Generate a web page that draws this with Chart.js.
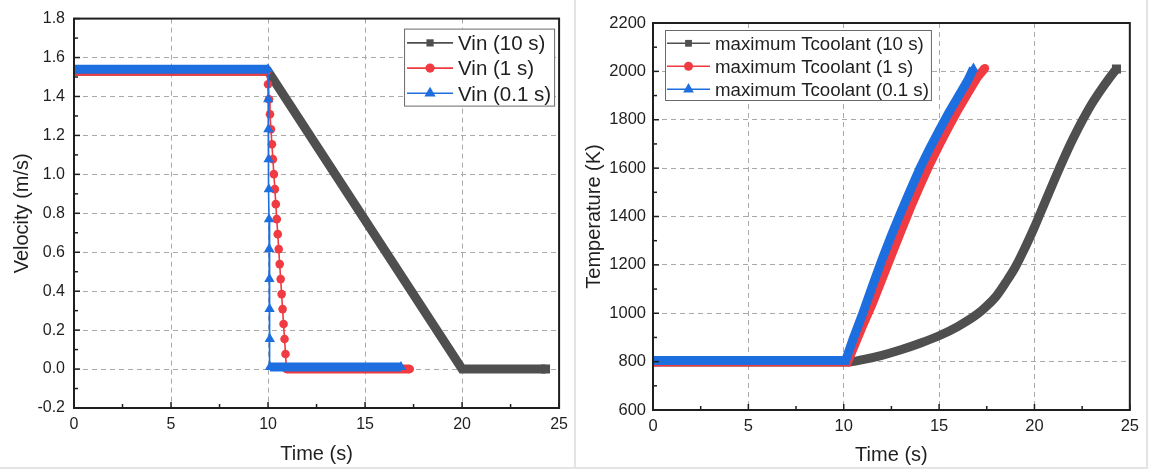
<!DOCTYPE html>
<html>
<head>
<meta charset="utf-8">
<script src="https://cdn.jsdelivr.net/npm/chart.js@4.4.1/dist/chart.umd.min.js"></script>
<style>
  html, body { margin: 0; padding: 0; background: #fff; }
  #wrap { position: relative; width: 1151px; height: 471px; overflow: hidden; }
  canvas { position: absolute; top: 0; }
  #velChart { left: 0; }
  #tempChart { left: 577px; }
  .rule { position: absolute; background: #e4e4e4; }
</style>
</head>
<body>
<div id="wrap">
  <canvas id="velChart" width="575" height="471"></canvas>
  <canvas id="tempChart" width="569" height="471"></canvas>
  <div class="rule" style="left:574px;top:0;width:2px;height:469px"></div>
  <div class="rule" style="left:1146px;top:0;width:2px;height:469px"></div>
  <div class="rule" style="left:0;top:467px;width:1148px;height:2px"></div>
</div>
<script>
const FONT = "'Liberation Sans', Arial, sans-serif";
const INK = '#1f1f1f';
const GREY = '#4f4f4f', RED = '#ef3b41', BLUE = '#1d6fe0';

// axis ticks
const timeTicks = [0, 5, 10, 15, 20, 25];
const velTicks = [-0.2, 0, 0.2, 0.4, 0.6, 0.8, 1.0, 1.2, 1.4, 1.6, 1.8];
const tempTicks = [600, 800, 1000, 1200, 1400, 1600, 1800, 2000, 2200];

// inlet velocity, three ramp-down times
const velTime10 = [0, 10, 20, 24.3];
const vel10 = [1.53, 1.53, 0, 0];

const velTime1 = [0, 9.95, 10, 10.05, 10.1, 10.15, 10.2, 10.25, 10.3, 10.35, 10.4, 10.45, 10.5,
                  10.55, 10.6, 10.65, 10.7, 10.75, 10.8, 10.85, 10.9, 10.95, 17.3];
const vel1 = [1.53, 1.53, 1.463, 1.386, 1.309, 1.232, 1.155, 1.078, 1.001, 0.924, 0.847, 0.77, 0.693,
              0.616, 0.539, 0.462, 0.385, 0.308, 0.231, 0.154, 0.077, 0, 0];

const velTime01 = [0, 10, 10.01, 10.02, 10.03, 10.04, 10.05, 10.06, 10.07, 10.08, 10.09, 10.1, 16.85];
const vel01 = [1.54, 1.54, 1.386, 1.232, 1.078, 0.924, 0.77, 0.616, 0.462, 0.308, 0.154, 0.01, 0.01];

// maximum coolant temperature
const tcTime10 = [0, 10.2, 11, 12, 13, 14, 15, 16, 17, 17.5, 18, 18.5, 19, 19.5, 20, 20.5, 21, 21.5,
                  22, 22.5, 23, 23.5, 24, 24.3];
const tc10 = [798, 798, 808, 826, 849, 876, 907, 946, 996, 1030, 1071, 1128, 1191, 1270, 1356, 1450,
              1543, 1633, 1718, 1795, 1865, 1925, 1980, 2010];

const tcTime1 = [0, 10.2, 10.5, 11, 11.5, 12, 12.5, 13, 13.5, 14, 14.5, 15, 15.5, 16, 16.5, 17, 17.4];
const tc1 = [798, 798, 855, 950, 1040, 1140, 1240, 1340, 1437, 1528, 1615, 1695, 1770, 1843, 1910, 1975, 2013];

const tcTime01 = [0, 10.1, 10.5, 11, 11.5, 12, 12.5, 13, 13.5, 14, 14.5, 15, 15.5, 16, 16.5, 16.8];
const tc01 = [805, 805, 895, 1000, 1112, 1220, 1322, 1418, 1510, 1600, 1680, 1755, 1828, 1895, 1962, 2012];

const MARK = { rect: 6.4, circle: 4.3, triangle: 6 };
const BAND = 9;

// thick band where the marker run is dense; thin line with visible markers on the drops
function series(label, xs, ys, color, marker, order, thinDrop, smooth) {
  return {
    label, order,
    data: xs.map((x, i) => ({ x, y: ys[i] })),
    borderColor: color,
    backgroundColor: color,
    pointBackgroundColor: color,
    pointBorderWidth: 0,
    pointStyle: marker,
    borderWidth: BAND,
    borderJoinStyle: 'miter',
    cubicInterpolationMode: smooth ? 'monotone' : 'default',
    tension: 0,
    clip: 0,
    pointRadius: ctx => {
      const d = ctx.dataset.data, i = ctx.dataIndex;
      if (i === d.length - 1) return MARK[marker];
      if (!thinDrop || i === 0) return 0;
      const flatL = d[i - 1].y === d[i].y;
      const flatR = d[i + 1].y === d[i].y;
      return flatL && flatR ? 0 : MARK[marker];
    },
    segment: {
      borderWidth: ctx => (thinDrop && ctx.p0.parsed.y !== ctx.p1.parsed.y) ? 1.6 : BAND
    }
  };
}

function drawMarker(ctx, style, x, y, r) {
  ctx.beginPath();
  if (style === 'circle') {
    ctx.arc(x, y, r, 0, Math.PI * 2);
  } else if (style === 'triangle') {
    ctx.moveTo(x, y - r);
    ctx.lineTo(x + r * 0.866, y + r / 2);
    ctx.lineTo(x - r * 0.866, y + r / 2);
    ctx.closePath();
  } else {
    ctx.rect(x - r, y - r, 2 * r, 2 * r);
  }
  ctx.fill();
}

// closed frame with inward major/minor ticks on bottom and left
const framePlugin = {
  id: 'frame',
  afterDatasetsDraw(chart) {
    const { ctx, chartArea: a, scales: { x, y } } = chart;
    ctx.save();
    ctx.strokeStyle = INK;
    ctx.lineWidth = 1.5;
    const run = (scale, horiz) => {
      const vals = scale.ticks.map(t => t.value);
      const tick = (v, len) => {
        const p = scale.getPixelForValue(v);
        ctx.beginPath();
        if (horiz) { ctx.moveTo(p, a.bottom); ctx.lineTo(p, a.bottom - len); }
        else { ctx.moveTo(a.left, p); ctx.lineTo(a.left + len, p); }
        ctx.stroke();
      };
      vals.forEach((v, i) => {
        tick(v, 6);
        if (i < vals.length - 1) tick((v + vals[i + 1]) / 2, 4);
      });
    };
    run(x, true);
    run(y, false);
    ctx.lineWidth = 2;
    ctx.strokeRect(a.left, a.top, a.right - a.left, a.bottom - a.top);
    ctx.restore();
  }
};

// legend box drawn inside the plot
const boxLegend = {
  id: 'boxLegend',
  afterDraw(chart, args, o) {
    const { ctx, chartArea: a } = chart;
    const sets = chart.data.datasets;
    ctx.save();
    ctx.font = o.size + 'px ' + FONT;
    const textW = Math.max(...sets.map(d => ctx.measureText(d.label).width));
    const w = o.textX + textW + o.padR;
    const h = o.rowH * sets.length + o.padV;
    const left = o.anchor === 'right' ? a.right - o.dx - w : a.left + o.dx;
    const top = a.top + o.dy;
    ctx.fillStyle = '#fff';
    ctx.fillRect(left, top, w, h);
    ctx.strokeStyle = '#6a6a6a';
    ctx.lineWidth = 1;
    ctx.strokeRect(left + 0.5, top + 0.5, w - 1, h - 1);
    sets.forEach((d, i) => {
      const cy = top + o.firstRow + i * o.rowH;
      ctx.strokeStyle = d.borderColor;
      ctx.lineWidth = 1.6;
      ctx.beginPath();
      ctx.moveTo(left + o.lineX0, cy);
      ctx.lineTo(left + o.lineX1, cy);
      ctx.stroke();
      ctx.fillStyle = d.borderColor;
      drawMarker(ctx, d.pointStyle, left + (o.lineX0 + o.lineX1) / 2, cy, o.mark[d.pointStyle]);
      ctx.fillStyle = INK;
      ctx.textBaseline = 'alphabetic';
      ctx.fillText(d.label, left + o.textX, cy + o.size * 0.358);
    });
    ctx.restore();
  }
};

function axes(yTicks, yMin, yMax, yTitle, fmt, g) {
  const gridColor = ctx => (ctx.index === 0 || ctx.index === ctx.scale.ticks.length - 1) ? 'rgba(0,0,0,0)' : '#a9a9a9';
  return {
    x: {
      type: 'linear', min: 0, max: 25,
      afterBuildTicks: s => { s.ticks = timeTicks.map(value => ({ value })); },
      afterFit: s => { s.height = g.xh; },
      grid: { color: gridColor, drawTicks: false, lineWidth: 1 },
      border: { display: false, dash: [5, 4] },
      ticks: { font: { family: FONT, size: g.tick }, color: INK, padding: g.xpad, maxRotation: 0, autoSkip: false },
      title: { display: true, text: 'Time (s)', color: INK, font: { family: FONT, size: 20 }, padding: { top: 0, bottom: g.xt } }
    },
    y: {
      type: 'linear', min: yMin, max: yMax,
      afterBuildTicks: s => { s.ticks = yTicks.map(value => ({ value })); },
      afterFit: s => { s.width = g.yw; },
      grid: { color: gridColor, drawTicks: false, lineWidth: 1 },
      border: { display: false, dash: [5, 4] },
      ticks: { font: { family: FONT, size: g.tick }, color: INK, padding: g.ypad, autoSkip: false, callback: fmt },
      title: { display: true, text: yTitle, color: INK, font: { family: FONT, size: 20 }, padding: { top: g.yt, bottom: 0 } }
    }
  };
}

const common = {
  responsive: false,
  animation: false,
  events: [],
  plugins: { legend: { display: false }, tooltip: { enabled: false } }
};

new Chart(document.getElementById('velChart'), {
  type: 'line',
  data: {
    datasets: [
      series('Vin (10 s)', velTime10, vel10, GREY, 'rect', 3, false, false),
      series('Vin (1 s)', velTime1, vel1, RED, 'circle', 2, true, false),
      series('Vin (0.1 s)', velTime01, vel01, BLUE, 'triangle', 1, true, false)
    ]
  },
  options: {
    ...common,
    layout: { padding: { top: 14, right: 11, left: 0, bottom: 0 } },
    scales: axes(velTicks, -0.2, 1.8, 'Velocity (m/s)', v => v.toFixed(1),
      { xh: 63, yw: 74, tick: 16, xpad: 7, ypad: 9, xt: 5, yt: 10 }),
    plugins: {
      ...common.plugins,
      boxLegend: { anchor: 'right', dx: 4, dy: 10, size: 20.5, rowH: 25.2, padV: 2.4, firstRow: 14.3,
                   lineX0: 3, lineX1: 49, textX: 54, padR: 4, mark: { rect: 3.6, circle: 4.6, triangle: 6.5 } }
    }
  },
  plugins: [framePlugin, boxLegend]
});

new Chart(document.getElementById('tempChart'), {
  type: 'line',
  data: {
    datasets: [
      series('maximum Tcoolant (10 s)', tcTime10, tc10, GREY, 'rect', 3, false, true),
      series('maximum Tcoolant (1 s)', tcTime1, tc1, RED, 'circle', 2, false, false),
      series('maximum Tcoolant (0.1 s)', tcTime01, tc01, BLUE, 'triangle', 1, false, false)
    ]
  },
  options: {
    ...common,
    layout: { padding: { top: 23, right: 11, left: 0, bottom: 0 } },
    scales: axes(tempTicks, 600, 2200, 'Temperature (K)', v => String(v),
      { xh: 61, yw: 76, tick: 16.5, xpad: 7, ypad: 7, xt: 4, yt: 5 }),
    plugins: {
      ...common.plugins,
      boxLegend: { anchor: 'left', dx: 12, dy: 7, size: 18.7, rowH: 23, padV: 2, firstRow: 13.3,
                   lineX0: 2, lineX1: 45, textX: 50, padR: 3, mark: { rect: 3.4, circle: 4.5, triangle: 6.2 } }
    }
  },
  plugins: [framePlugin, boxLegend]
});
</script>
</body>
</html>
